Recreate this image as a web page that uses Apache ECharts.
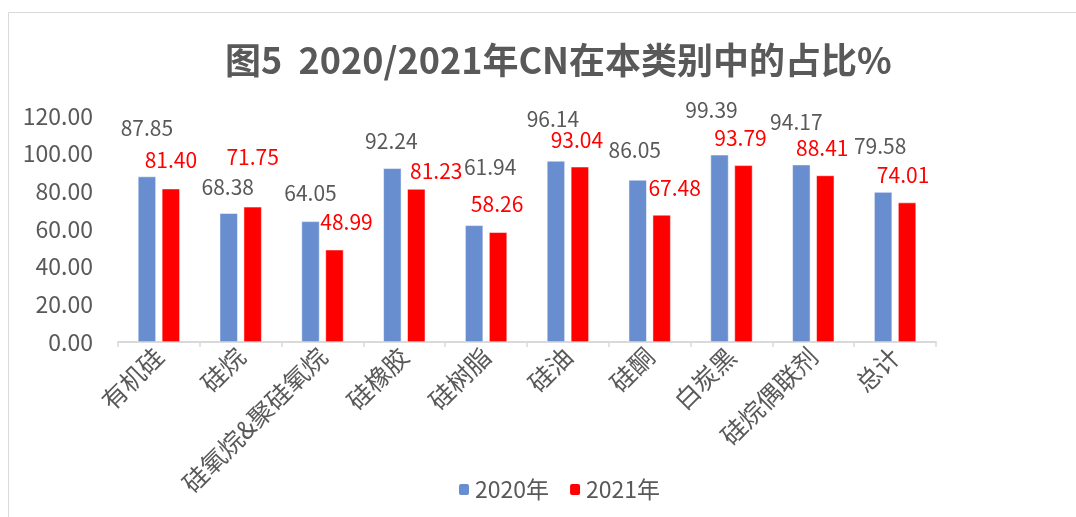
<!doctype html>
<html lang="zh">
<head>
<meta charset="utf-8">
<title>2020/2021年CN在本类别中的占比</title>
<script src="https://cdn.jsdelivr.net/npm/echarts@6/dist/echarts.min.js"></script>
<style>
  html, body { margin: 0; padding: 0; background: #fff; }
  #chart { width: 1076px; height: 517px; }
</style>
</head>
<body>
<div id="chart"></div>
<script>
var categories = ['有机硅', '硅烷', '硅氧烷&聚硅氧烷', '硅橡胶', '硅树脂', '硅油', '硅酮', '白炭黑', '硅烷偶联剂', '总计'];
var share2020 = [87.85, 68.38, 64.05, 92.24, 61.94, 96.14, 86.05, 99.39, 94.17, 79.58];
var share2021 = [81.40, 71.75, 48.99, 81.23, 58.26, 93.04, 67.48, 93.79, 88.41, 74.01];
var yTicks = [0, 20, 40, 60, 80, 100, 120];

// label nudges (px)
var off2020 = [[0,-21],[-1,1],[0,-1],[-1,0],[16,-31],[-3,-14],[-3,-2],[-8,-17],[-5,-15],[-3,-19]];
var off2021 = [[0,-1],[0,-22],[12,0],[20,9],[-1,-1],[-3,1],[13,1],[-3,0],[-3,0],[-4,0]];

var txt = '#595959';
var font = '"Noto Sans CJK SC", "Liberation Sans", sans-serif';

function buildData(vals, offs) {
    return vals.map(function (v, i) {
        return { value: v, label: { offset: offs[i] } };
    });
}

var myChart = echarts.init(document.getElementById('chart'));

myChart.setOption({
    animation: false,
    textStyle: { fontFamily: font },
    title: {
        text: '图5  2020/2021年CN在本类别中的占比%',
        left: 220,
        top: 37,
        textStyle: { fontSize: 36, fontWeight: 'bold', color: txt, fontFamily: font }
    },
    graphic: [{
        type: 'rect',
        shape: { x: 8.5, y: 12.5, width: 1100, height: 600 },
        style: { fill: 'none', stroke: '#d9d9d9', lineWidth: 1 },
        silent: true
    }],
    legend: {
        top: 473,
        left: 452,
        itemWidth: 12,
        itemHeight: 13,
        itemGap: 19,
        textStyle: { fontSize: 23, color: txt },
        data: ['2020年', '2021年']
    },
    grid: { left: 118, right: 140, top: 116, bottom: 175 },
    xAxis: {
        type: 'category',
        data: categories,
        axisLine: { lineStyle: { color: '#d9d9d9', width: 2 } },
        axisTick: { show: true, length: 5, lineStyle: { color: '#d9d9d9', width: 1.5 } },
        axisLabel: { rotate: 45, fontSize: 25, color: txt, interval: 0, margin: 10 }
    },
    yAxis: {
        type: 'value',
        min: yTicks[0],
        max: yTicks[yTicks.length - 1],
        interval: yTicks[1] - yTicks[0],
        axisLine: { show: false },
        axisTick: { show: false },
        splitLine: { show: false },
        axisLabel: {
            fontSize: 23, color: txt, margin: 25,
            formatter: function (v) { return v.toFixed(2); }
        }
    },
    series: [{
        name: '2020年',
        type: 'bar',
        barWidth: 18,
        barGap: '33%',
        itemStyle: { color: '#698ed0', borderColor: '#fff', borderWidth: 0.5 },
        label: { show: true, position: 'top', distance: 17, fontSize: 21, color: txt,
                 formatter: function (p) { return p.value.toFixed(2); } },
        data: buildData(share2020, off2020)
    }, {
        name: '2021年',
        type: 'bar',
        barWidth: 18,
        itemStyle: { color: '#ff0000', borderColor: '#fff', borderWidth: 0.5 },
        label: { show: true, position: 'top', distance: 17, fontSize: 21, color: '#ff0000',
                 formatter: function (p) { return p.value.toFixed(2); } },
        data: buildData(share2021, off2021)
    }]
});
</script>
</body>
</html>
